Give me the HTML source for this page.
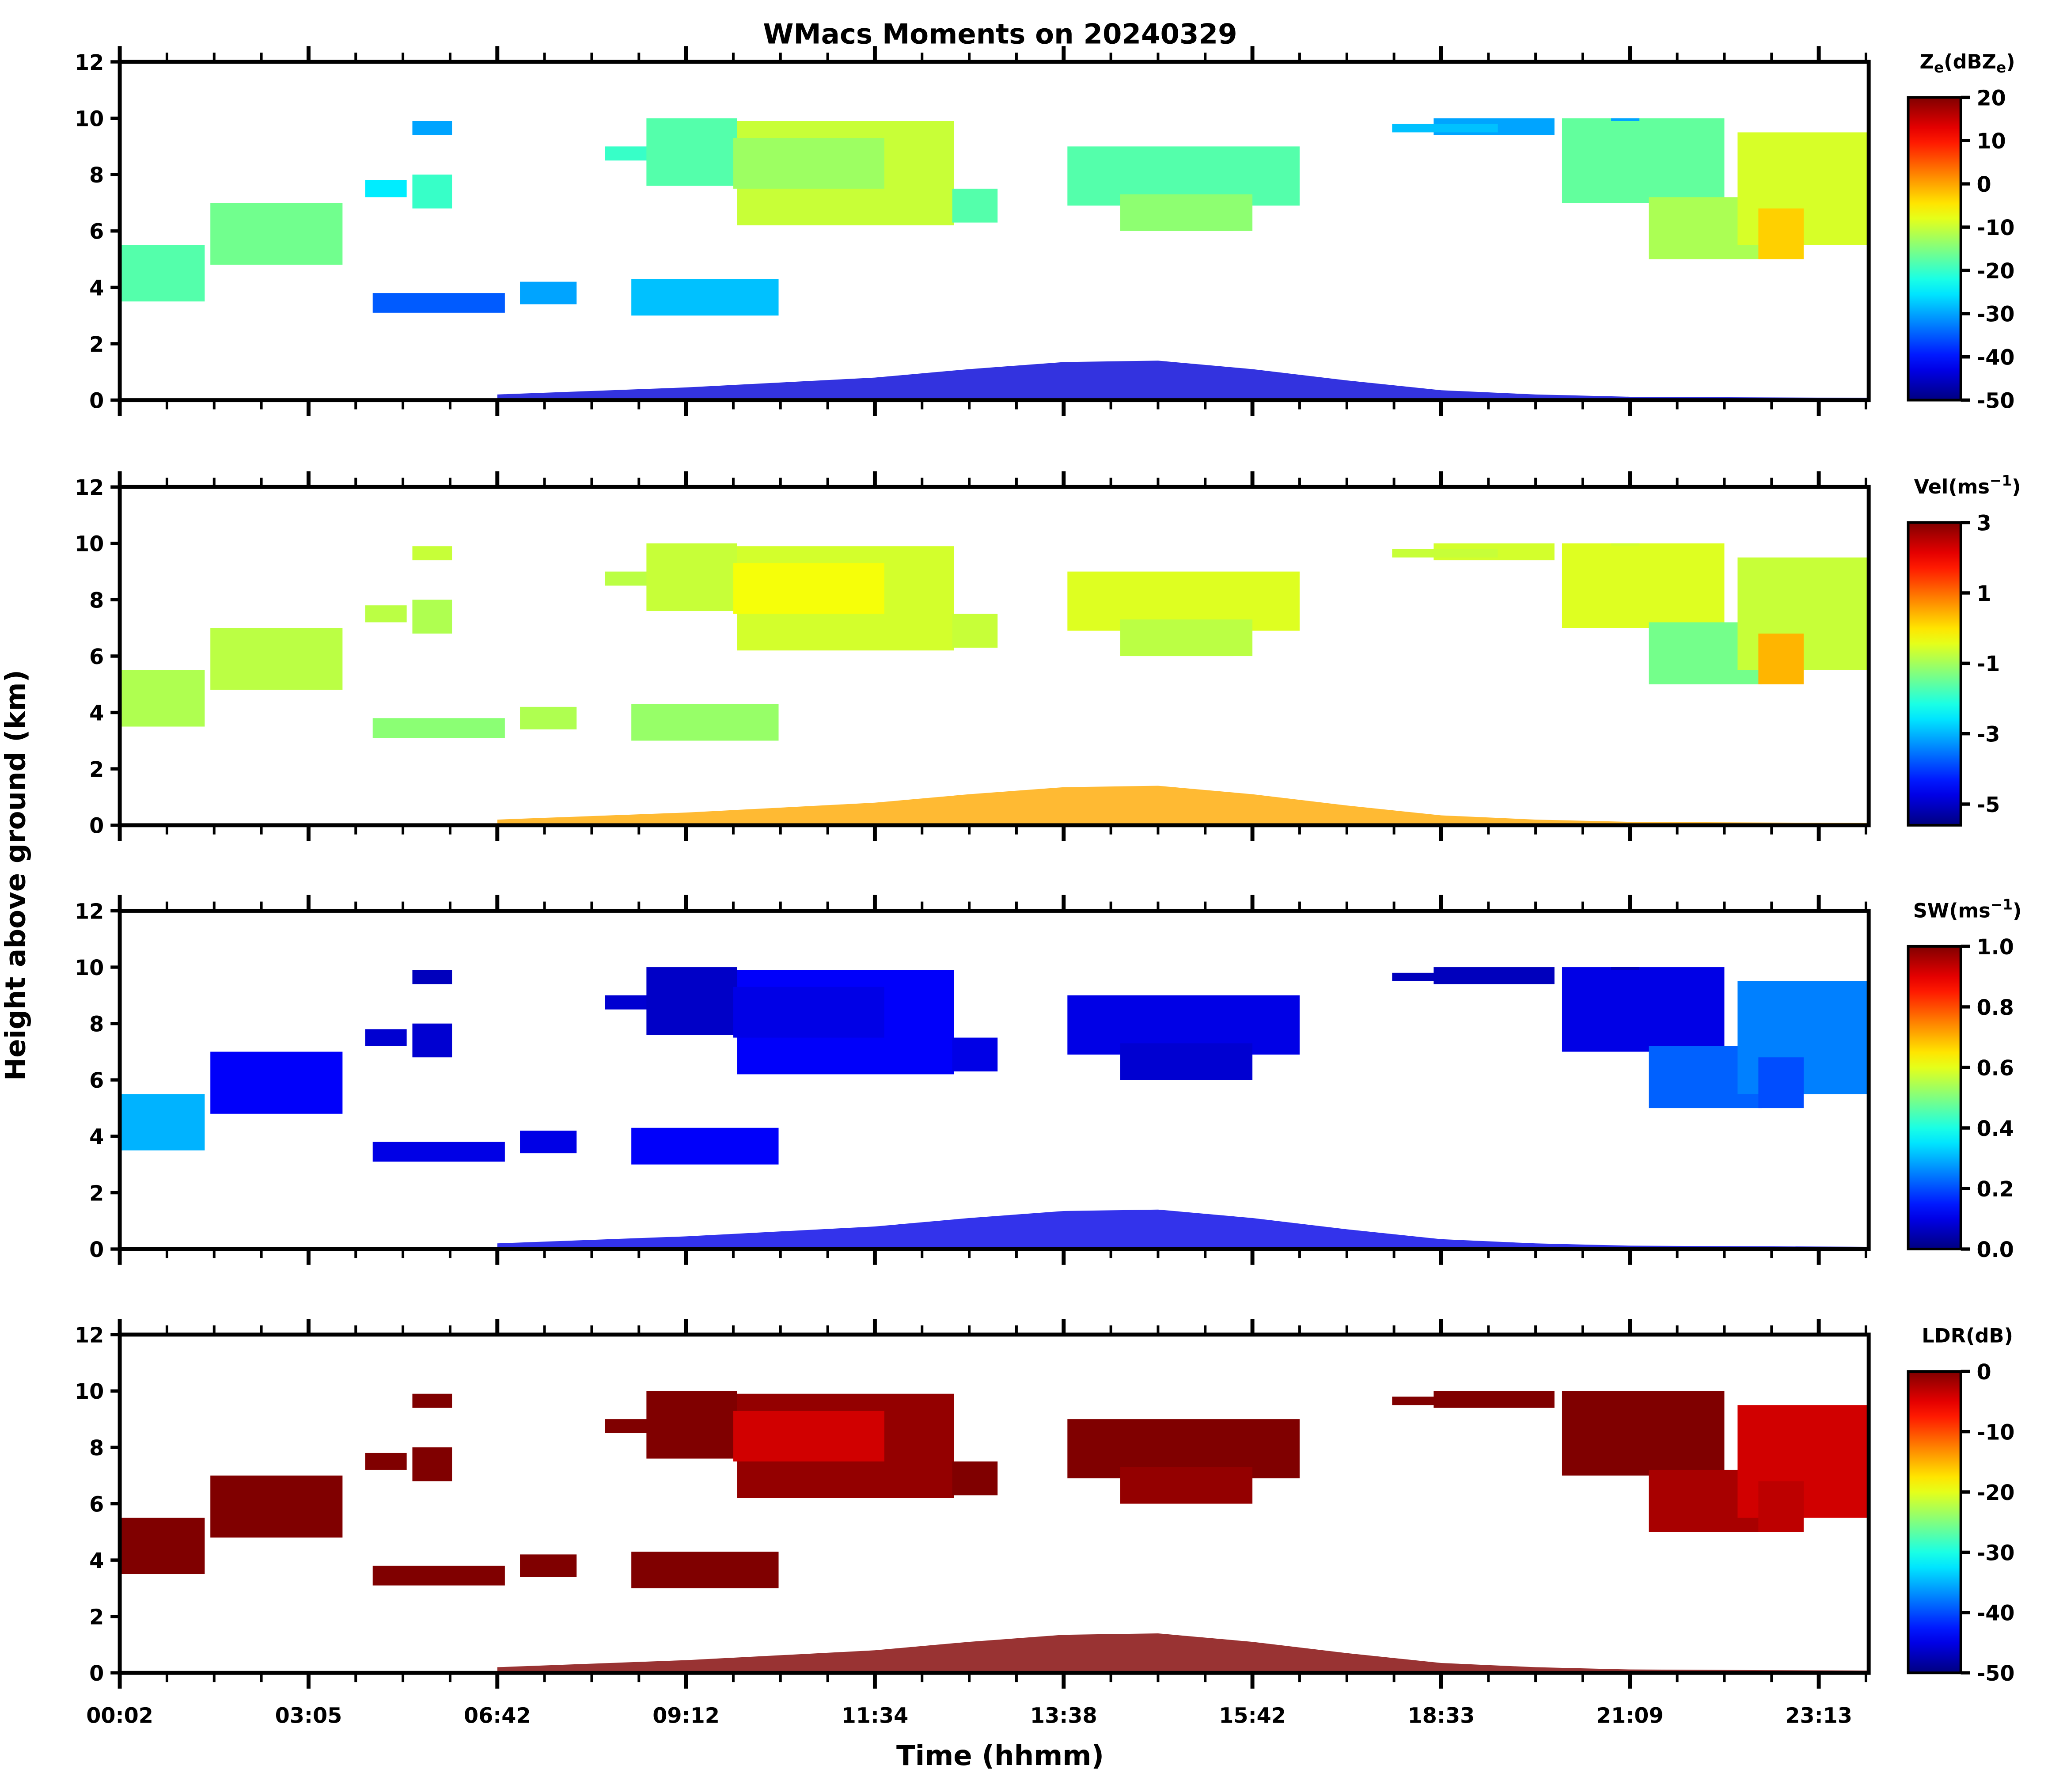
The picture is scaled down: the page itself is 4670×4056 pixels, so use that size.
<!DOCTYPE html>
<html><head><meta charset="utf-8"><style>
html,body{margin:0;padding:0;background:#fff}
svg{display:block}
text{font-family:"DejaVu Sans","Liberation Sans",sans-serif;font-weight:bold;fill:#000}
</style></head><body>
<svg xmlns="http://www.w3.org/2000/svg" width="4670" height="4056" viewBox="0 0 1556.67 1352">
<g id="fig" transform="scale(0.993)">
<text x="760" y="33" font-size="21" text-anchor="middle">WMacs Moments on 20240329</text>
<text x="19" y="665" font-size="21" text-anchor="middle" transform="rotate(-90 19 665)">Height above ground (km)</text>
<text x="760" y="1341" font-size="21" text-anchor="middle">Time (hhmm)</text>
</g>
</svg>
<script>
// ---- data (time in tick-index units, heights in km) ----
const timeTickLabels = ["00:02","03:05","06:42","09:12","11:34","13:38","15:42","18:33","21:09","23:13"];
const heightTicks = [0,2,4,6,8,10,12];
const blobStart = [0.01,0.48,1.30,1.55,1.55,1.34,2.12,2.71,2.57,2.79,3.27,3.25,4.41,5.02,5.35,5.30,6.96,6.74,7.64,8.10,8.57,8.68,7.90];
const blobEnd   = [0.45,1.18,1.52,1.76,1.76,2.04,2.42,3.49,2.80,3.27,4.42,4.05,4.65,6.25,5.90,6.00,7.60,7.30,8.50,8.70,9.26,8.92,8.05];
const blobBase  = [3.5, 4.8, 7.2, 6.8, 9.4, 3.1, 3.4, 3.0, 8.5, 7.6, 6.2, 7.5, 6.3, 6.9, 6.0, 6.0, 9.4, 9.5, 7.0, 5.0, 5.5, 5.0, 9.9];
const blobTop   = [5.5, 7.0, 7.8, 8.0, 9.9, 3.8, 4.2, 4.3, 9.0, 10.0, 9.9, 9.3, 7.5, 9.0, 7.0, 7.3, 10.0, 9.8, 10.0, 7.2, 9.5, 6.8, 10.0];
const zeVals  = [-18,-16,-25,-20,-30,-35,-30,-28,-20,-18,-10,-13,-18,-18,-14,-14,-30,-28,-17,-12,-9,-3,-30];
const velVals = [-0.9,-0.8,-0.8,-0.9,-0.7,-1.2,-0.9,-1.1,-0.8,-0.7,-0.6,-0.3,-0.7,-0.5,-0.9,-0.8,-0.6,-0.7,-0.5,-1.4,-0.7,0.4,-0.6];
const swVals  = [0.3,0.12,0.08,0.08,0.06,0.1,0.1,0.12,0.08,0.07,0.12,0.1,0.1,0.1,0.07,0.08,0.06,0.06,0.1,0.22,0.25,0.2,0.06];
const ldrVals = [0,0,0,0,0,0,0,0,0,0,-1,-4,0,0,0,-1,0,0,0,-2,-4,-3,0];
// boundary layer echo: time and top height
const blTimes   = [2.0,3.0,4.0,4.5,5.0,5.5,6.0,6.5,7.0,7.5,8.0,9.26];
const blHeights = [0.2,0.45,0.8,1.1,1.35,1.4,1.1,0.7,0.35,0.2,0.12,0.08];
const blZe = -44, blVel = 0.5, blSW = 0.1, blLDR = 0;

const panels = [
 {name:"ze", top:47, vals:zeVals, bl:blZe, min:-50, max:20, ticks:[20,10,0,-10,-20,-30,-40,-50], lbl:'Z<tspan font-size="11" dy="3">e</tspan><tspan dy="-3">(dBZ</tspan><tspan font-size="11" dy="3">e</tspan><tspan dy="-3">)</tspan>', cbTop:74, fmt:v=>v},
 {name:"velocity", top:370, vals:velVals, bl:blVel, min:-5.6, max:3, ticks:[3,1,-1,-3,-5], lbl:'Vel(ms<tspan font-size="11" dy="-6">−1</tspan><tspan dy="6">)</tspan>', cbTop:397, fmt:v=>v},
 {name:"spectral-width", top:692, vals:swVals, bl:blSW, min:0, max:1, ticks:[1,0.8,0.6,0.4,0.2,0], lbl:'SW(ms<tspan font-size="11" dy="-6">−1</tspan><tspan dy="6">)</tspan>', cbTop:719, fmt:v=>v.toFixed(1)},
 {name:"ldr", top:1014, vals:ldrVals, bl:blLDR, min:-50, max:0, ticks:[0,-10,-20,-30,-40,-50], lbl:'LDR(dB)', cbTop:1042, fmt:v=>v}
];
const X0=91, X1=1420, UNIT=143.45, PH=257;
const xS = u => X0 + u*UNIT;

function jet(t){t=Math.max(0,Math.min(1,t));
 const f=(a)=>Math.max(0,Math.min(1,1.5-Math.abs(4*t-a)));
 return `rgb(${Math.round(255*f(3))},${Math.round(255*f(2))},${Math.round(255*f(1))})`;}

const svg=document.getElementById('fig');
const NS="http://www.w3.org/2000/svg";
function mk(tag,attrs,parent){const e=document.createElementNS(NS,tag);for(const k in attrs)e.setAttribute(k,attrs[k]);(parent||svg).appendChild(e);return e;}

const defs=mk('defs',{});
const lg=mk('linearGradient',{id:'jetg',x1:0,y1:1,x2:0,y2:0},defs);
for(let i=0;i<=20;i++){mk('stop',{offset:i/20,'stop-color':jet(i/20)},lg);}

panels.forEach((p,pi)=>{
 const yB=p.top+PH, yS=h=>yB-h/12*PH;
 const g=mk('g',{});
 
 
 const col=v=>jet((v-p.min)/(p.max-p.min));
 let d=`M${xS(blTimes[0])},${yB}`;
 blTimes.forEach((t,i)=>{d+=` L${xS(t)},${yS(blHeights[i])}`;});
 d+=` L${xS(blTimes[blTimes.length-1])},${yB} Z`;
 const bl=mk('path',{d:d,fill:col(p.bl),opacity:0.8},g);
 
 
 blobStart.forEach((s,i)=>{
  const r=mk('rect',{x:xS(s),y:yS(blobTop[i]),width:xS(blobEnd[i])-xS(s),height:yS(blobBase[i])-yS(blobTop[i]),fill:col(p.vals[i])},g);
  
  
 });
 mk('rect',{x:X0,y:p.top,width:X1-X0,height:PH,fill:'none',stroke:'#000','stroke-width':3},g);
 for(let k=0;k<=37;k++){const u=k/4; if(xS(u)>X1+1)break; const L=(k%4==0)?12:7;
  mk('line',{x1:xS(u),x2:xS(u),y1:yB,y2:yB+L,stroke:'#000','stroke-width':(k%4==0)?3:2},g);
  mk('line',{x1:xS(u),x2:xS(u),y1:p.top,y2:p.top-L,stroke:'#000','stroke-width':(k%4==0)?3:2},g);}
 if(pi==3){timeTickLabels.forEach((l,i)=>{const t=mk('text',{x:xS(i),y:yB+38,'font-size':16,'text-anchor':'middle'},g);t.textContent=l;
  });}
 heightTicks.forEach(h=>{mk('line',{x1:X0-7,x2:X0,y1:yS(h),y2:yS(h),stroke:'#000','stroke-width':2.5},g);
  const t=mk('text',{x:X0-12,y:yS(h)+6,'font-size':16,'text-anchor':'end'},g);t.textContent=h;
  });
 const cbH=yB-p.cbTop;
 const cb=mk('rect',{x:1450,y:p.cbTop,width:40,height:cbH,fill:'url(#jetg)',stroke:'#000','stroke-width':2},g);
 
 
 p.ticks.forEach(v=>{const y=yB-(v-p.min)/(p.max-p.min)*cbH;
  mk('line',{x1:1490,x2:1497,y1:y,y2:y,stroke:'#000','stroke-width':2.5},g);
  const t=mk('text',{x:1502,y:y+6,'font-size':16},g);t.textContent=p.fmt(v);
  });
 const ct=mk('text',{x:1495,y:p.cbTop-22,'font-size':15,'text-anchor':'middle'},g);ct.innerHTML=p.lbl;
 
 
});
</script>
</body></html>
